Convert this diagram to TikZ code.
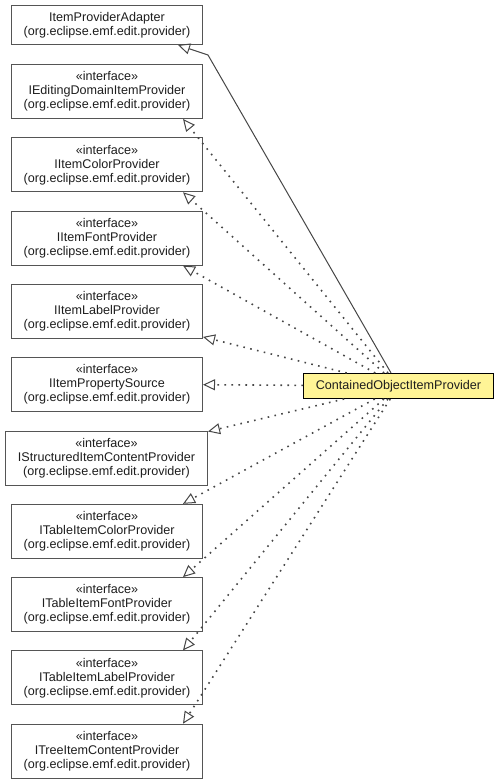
\documentclass[tikz,border=0pt]{standalone}
\usepackage{fontspec}
\setmainfont{Liberation Sans}
\usetikzlibrary{arrows.meta}
\definecolor{boxline}{RGB}{85,85,85}
\definecolor{edgecol}{RGB}{70,70,70}
\definecolor{txtcol}{RGB}{30,30,30}
\definecolor{yel}{RGB}{255,244,150}
\begin{document}
\begin{tikzpicture}[x=1pt,y=-1pt,
  cls/.style={draw=boxline, line width=1pt, fill=white, rectangle, align=center,
    inner sep=0pt, minimum width=191pt, minimum height=54pt, anchor=north west,
    font=\fontsize{12.6}{14}\selectfont, text=txtcol},
  main/.style={cls, draw=black, fill=yel, minimum width=190pt, minimum height=25pt},
  tip/.style={-{Triangle[open, length=12pt, width=11pt, line width=1pt]}},
  realize/.style={tip, draw=edgecol, line width=1.6pt, dash pattern=on 1.6pt off 5.4pt},
  gen/.style={tip, draw=edgecol, line width=1pt}
]
\useasboundingbox (0,0) rectangle (499,784);

\node[cls, minimum height=39pt] (b1) at (11,5) {ItemProviderAdapter\\(org.eclipse.emf.edit.provider)};
\node[cls] (b2) at (11,64) {«interface»\\IEditingDomainItemProvider\\(org.eclipse.emf.edit.provider)};
\node[cls] (b3) at (11,137.3) {«interface»\\IItemColorProvider\\(org.eclipse.emf.edit.provider)};
\node[cls] (b4) at (11,210.6) {«interface»\\IItemFontProvider\\(org.eclipse.emf.edit.provider)};
\node[cls] (b5) at (11,283.9) {«interface»\\IItemLabelProvider\\(org.eclipse.emf.edit.provider)};
\node[cls] (b6) at (11,357.2) {«interface»\\IItemPropertySource\\(org.eclipse.emf.edit.provider)};
\node[cls, minimum width=202pt] (b7) at (5,430.5) {«interface»\\IStructuredItemContentProvider\\(org.eclipse.emf.edit.provider)};
\node[cls] (b8) at (11,503.8) {«interface»\\ITableItemColorProvider\\(org.eclipse.emf.edit.provider)};
\node[cls] (b9) at (11,577.1) {«interface»\\ITableItemFontProvider\\(org.eclipse.emf.edit.provider)};
\node[cls] (b10) at (11,650.4) {«interface»\\ITableItemLabelProvider\\(org.eclipse.emf.edit.provider)};
\node[cls] (b11) at (11,723.7) {«interface»\\ITreeItemContentProvider\\(org.eclipse.emf.edit.provider)};

\node[main] (c) at (303,373) {ContainedObjectItemProvider};

\coordinate (bend) at (208,55);
\draw[gen] (c) -- (bend) -- ([xshift=-25pt]b1.south east);

\draw[realize] (c) -- ([xshift=-20pt]b2.south east);
\draw[realize] (c) -- ([xshift=-20pt]b3.south east);
\draw[realize] (c) -- ([xshift=-20pt]b4.south east);
\draw[realize] (c) -- ([yshift=2pt]b5.south east);
\draw[realize] (c) -- (b6.east);
\draw[realize] (c) -- ([yshift=-1pt]b7.north east);
\draw[realize] (c) -- ([xshift=-20pt]b8.north east);
\draw[realize] (c) -- ([xshift=-20pt]b9.north east);
\draw[realize] (c) -- ([xshift=-20pt]b10.north east);
\draw[realize] (c) -- ([xshift=-20pt]b11.north east);
\end{tikzpicture}
\end{document}
